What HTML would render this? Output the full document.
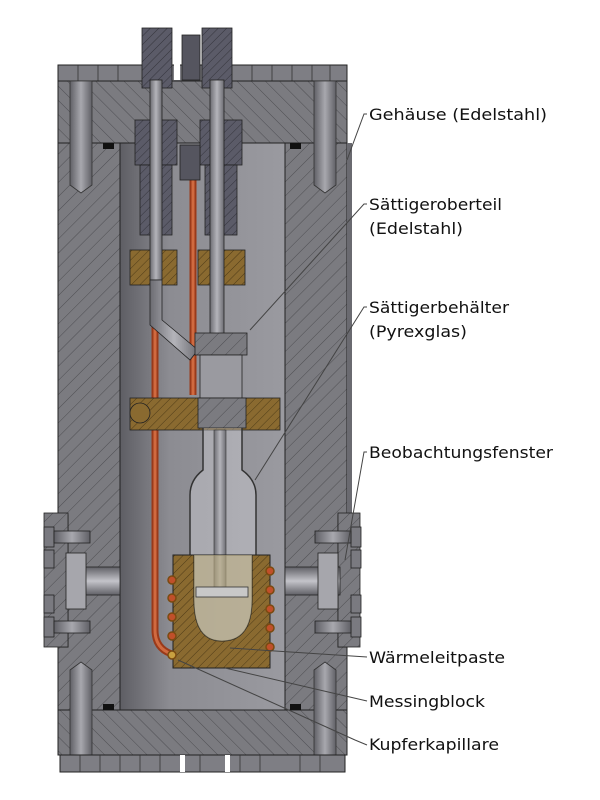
<!DOCTYPE html>
<html><head><meta charset="utf-8"><style>
html,body{margin:0;padding:0;background:#fff;width:600px;height:800px;overflow:hidden}
text{font-family:"DejaVu Sans","Liberation Sans",sans-serif;font-size:16px;fill:#111}
</style></head><body>
<svg width="600" height="800" viewBox="0 0 600 800" xmlns="http://www.w3.org/2000/svg">
<defs>
<pattern id="h" width="10" height="10" patternUnits="userSpaceOnUse" patternTransform="rotate(45)">
<rect width="10" height="10" fill="#7b7b80"/><line x1="0" y1="0" x2="0" y2="10" stroke="#3a3a3e" stroke-width="0.7"/></pattern>
<pattern id="h2" width="10" height="10" patternUnits="userSpaceOnUse" patternTransform="rotate(-45)">
<rect width="10" height="10" fill="#7b7b80"/><line x1="0" y1="0" x2="0" y2="10" stroke="#3a3a3e" stroke-width="0.7"/></pattern>
<pattern id="hb" width="6" height="6" patternUnits="userSpaceOnUse" patternTransform="rotate(45)">
<rect width="6" height="6" fill="#8a6a30"/><line x1="0" y1="0" x2="0" y2="6" stroke="#3f2f10" stroke-width="0.8"/></pattern>
<pattern id="hd" width="6" height="6" patternUnits="userSpaceOnUse" patternTransform="rotate(45)">
<rect width="6" height="6" fill="#5b5b68"/><line x1="0" y1="0" x2="0" y2="6" stroke="#2a2a30" stroke-width="0.8"/></pattern>
<linearGradient id="cav" x1="0" x2="1"><stop offset="0" stop-color="#5e5e64"/><stop offset="0.3" stop-color="#8c8c92"/><stop offset="1" stop-color="#9a9aa0"/></linearGradient>
<linearGradient id="tube" x1="0" x2="1"><stop offset="0" stop-color="#6c6c72"/><stop offset="0.5" stop-color="#b4b4ba"/><stop offset="1" stop-color="#6c6c72"/></linearGradient>
<linearGradient id="bolt" x1="0" x2="1"><stop offset="0" stop-color="#606066"/><stop offset="0.5" stop-color="#a8a8ae"/><stop offset="1" stop-color="#606066"/></linearGradient>
<linearGradient id="win" x1="0" x2="0" y1="0" y2="1"><stop offset="0" stop-color="#606066"/><stop offset="0.5" stop-color="#c4c4ca"/><stop offset="1" stop-color="#606066"/></linearGradient>
</defs>
<!-- top bolt heads -->
<rect x="58" y="65" width="289" height="16" fill="#7e7e84" stroke="#222" stroke-width="1"/>
<g stroke="#333" stroke-width="0.8"><line x1="78" y1="65" x2="78" y2="81"/><line x1="98" y1="65" x2="98" y2="81"/><line x1="118" y1="65" x2="118" y2="81"/><line x1="252" y1="65" x2="252" y2="81"/><line x1="272" y1="65" x2="272" y2="81"/><line x1="292" y1="65" x2="292" y2="81"/><line x1="312" y1="65" x2="312" y2="81"/><line x1="330" y1="65" x2="330" y2="81"/></g>
<rect x="174" y="50" width="6" height="30" fill="#fff"/>
<!-- body -->
<path d="M58 81 H347 V515 H338 V647 H347 V755 H58 V647 H68 V515 H58 Z" fill="url(#h)" stroke="#222" stroke-width="1"/>
<rect x="58" y="81" width="289" height="62" fill="url(#h2)" stroke="#222" stroke-width="1"/>
<rect x="58" y="710" width="289" height="45" fill="url(#h2)" stroke="#222" stroke-width="1"/>
<rect x="347" y="143" width="5" height="372" fill="#6a6a70"/>
<!-- cavity -->
<rect x="120" y="143" width="165" height="567" fill="url(#cav)" stroke="#222" stroke-width="1"/>
<!-- bolts -->
<g fill="url(#bolt)" stroke="#333" stroke-width="0.8">
<path d="M70 81 H92 V185 L81 193 L70 185 Z"/><path d="M314 81 H336 V185 L325 193 L314 185 Z"/>
<path d="M70 755 V670 L81 662 L92 670 V755 Z"/><path d="M314 755 V670 L325 662 L336 670 V755 Z"/>
</g>
<g fill="#111"><rect x="103" y="143" width="11" height="6"/><rect x="290" y="143" width="11" height="6"/><rect x="103" y="704" width="11" height="6"/><rect x="290" y="704" width="11" height="6"/></g>
<!-- bottom bolt heads -->
<rect x="60" y="755" width="285" height="17" fill="#7e7e84" stroke="#222" stroke-width="1"/>
<g stroke="#333" stroke-width="0.8"><line x1="80" y1="755" x2="80" y2="772"/><line x1="100" y1="755" x2="100" y2="772"/><line x1="120" y1="755" x2="120" y2="772"/><line x1="140" y1="755" x2="140" y2="772"/><line x1="160" y1="755" x2="160" y2="772"/><line x1="200" y1="755" x2="200" y2="772"/><line x1="240" y1="755" x2="240" y2="772"/><line x1="260" y1="755" x2="260" y2="772"/><line x1="300" y1="755" x2="300" y2="772"/><line x1="320" y1="755" x2="320" y2="772"/></g>
<rect x="180" y="755" width="5" height="17" fill="#fff"/><rect x="225" y="755" width="5" height="17" fill="#fff"/>
<!-- windows -->
<g stroke="#222" stroke-width="0.8">
<rect x="44" y="513" width="24" height="134" fill="url(#h)"/><rect x="338" y="513" width="22" height="134" fill="url(#h)"/>
<rect x="68" y="567" width="52" height="28" fill="url(#win)"/><rect x="285" y="567" width="55" height="28" fill="url(#win)"/>
<rect x="66" y="553" width="20" height="56" fill="#a6a6ac"/><rect x="318" y="553" width="20" height="56" fill="#a6a6ac"/>
<rect x="44" y="527" width="10" height="20" fill="#7a7a80"/><rect x="44" y="617" width="10" height="20" fill="#7a7a80"/>
<rect x="54" y="531" width="36" height="12" fill="url(#bolt)"/><rect x="54" y="621" width="36" height="12" fill="url(#bolt)"/>
<rect x="351" y="527" width="10" height="20" fill="#7a7a80"/><rect x="351" y="617" width="10" height="20" fill="#7a7a80"/>
<rect x="315" y="531" width="36" height="12" fill="url(#bolt)"/><rect x="315" y="621" width="36" height="12" fill="url(#bolt)"/>
<rect x="44" y="550" width="10" height="18" fill="#7a7a80"/><rect x="351" y="550" width="10" height="18" fill="#7a7a80"/>
<rect x="44" y="595" width="10" height="18" fill="#7a7a80"/><rect x="351" y="595" width="10" height="18" fill="#7a7a80"/>
</g>
<!-- copper capillary -->
<path d="M193 160 V395 M155 300 V630 Q155 650 175 655" fill="none" stroke="#9a3a1a" stroke-width="7"/>
<path d="M193 160 V395 M155 300 V630 Q155 650 175 655" fill="none" stroke="#d06a40" stroke-width="3"/>
<!-- fittings top -->
<g stroke="#222" stroke-width="0.8">
<rect x="142" y="28" width="30" height="60" fill="url(#hd)"/><rect x="202" y="28" width="30" height="60" fill="url(#hd)"/>
<rect x="182" y="35" width="18" height="45" fill="#55555f"/>
<rect x="135" y="120" width="42" height="45" fill="url(#hd)"/><rect x="200" y="120" width="42" height="45" fill="url(#hd)"/>
<rect x="140" y="165" width="32" height="70" fill="url(#hd)"/><rect x="205" y="165" width="32" height="70" fill="url(#hd)"/>
<rect x="180" y="145" width="20" height="35" fill="#55555f"/>
<rect x="130" y="250" width="47" height="35" fill="url(#hb)"/><rect x="198" y="250" width="47" height="35" fill="url(#hb)"/>
<rect x="150" y="80" width="12" height="200" fill="url(#tube)"/><rect x="210" y="80" width="14" height="330" fill="url(#tube)"/>
<path d="M150 280 V325 L190 360 L198 350 L162 320 V280 Z" fill="url(#tube)"/>
<rect x="195" y="333" width="52" height="22" fill="url(#h)"/>
<rect x="200" y="355" width="42" height="45" fill="#9a9aa0"/>
<rect x="130" y="398" width="150" height="32" fill="url(#hb)"/>
<rect x="198" y="398" width="48" height="30" fill="url(#h)"/>
<ellipse cx="140" cy="413" rx="10" ry="10" fill="#8a6a30"/>
</g>
<!-- glass -->
<path d="M203 428 V470 Q190 480 190 495 V600 Q190 645 222 645 Q256 645 256 600 V495 Q256 480 242 470 V428" fill="rgba(220,220,225,0.35)" stroke="#333" stroke-width="1.5"/>
<rect x="214" y="430" width="12" height="160" fill="url(#tube)" stroke="#333" stroke-width="0.6"/>
<!-- brass block -->
<path d="M173 555 H270 V668 H173 Z M194 555 V600 Q194 641 222 641 Q252 641 252 600 V555 Z" fill="url(#hb)" fill-rule="evenodd" stroke="#222" stroke-width="1"/>
<path d="M194 555 V600 Q194 641 222 641 Q252 641 252 600 V555 Z" fill="rgba(190,175,130,0.6)"/>
<rect x="196" y="587" width="52" height="10" fill="#c8c8c8" stroke="#333" stroke-width="0.8"/>
<g fill="#c0502a" stroke="#7a4a10" stroke-width="1.5">
<circle cx="172" cy="580" r="4"/><circle cx="172" cy="598" r="4"/><circle cx="172" cy="617" r="4"/><circle cx="172" cy="636" r="4"/>
<circle cx="270" cy="571" r="4"/><circle cx="270" cy="590" r="4"/><circle cx="270" cy="609" r="4"/><circle cx="270" cy="628" r="4"/><circle cx="270" cy="647" r="4"/>
<circle cx="172" cy="655" r="4" fill="#c8a040"/></g>
<!-- leaders -->
<g stroke="#444" stroke-width="1" fill="none">
<path d="M367 114 H364 L347 160"/><path d="M367 204 H364 L250 330"/><path d="M367 307 H364 L255 480"/>
<path d="M367 452 H364 L345 560"/><path d="M367 657 L230 648"/><path d="M367 701 L225 668"/><path d="M367 745 L355 740 L178 660"/>
</g>
<text x="369" y="120" textLength="178" lengthAdjust="spacingAndGlyphs">Gehäuse (Edelstahl)</text>
<text x="369" y="210" textLength="133" lengthAdjust="spacingAndGlyphs">Sättigeroberteil</text>
<text x="369" y="234" textLength="94" lengthAdjust="spacingAndGlyphs">(Edelstahl)</text>
<text x="369" y="313" textLength="140" lengthAdjust="spacingAndGlyphs">Sättigerbehälter</text>
<text x="369" y="337" textLength="98" lengthAdjust="spacingAndGlyphs">(Pyrexglas)</text>
<text x="369" y="458" textLength="184" lengthAdjust="spacingAndGlyphs">Beobachtungsfenster</text>
<text x="369" y="663" textLength="136" lengthAdjust="spacingAndGlyphs">Wärmeleitpaste</text>
<text x="369" y="707" textLength="116" lengthAdjust="spacingAndGlyphs">Messingblock</text>
<text x="369" y="750" textLength="130" lengthAdjust="spacingAndGlyphs">Kupferkapillare</text>
</svg>
</body></html>
